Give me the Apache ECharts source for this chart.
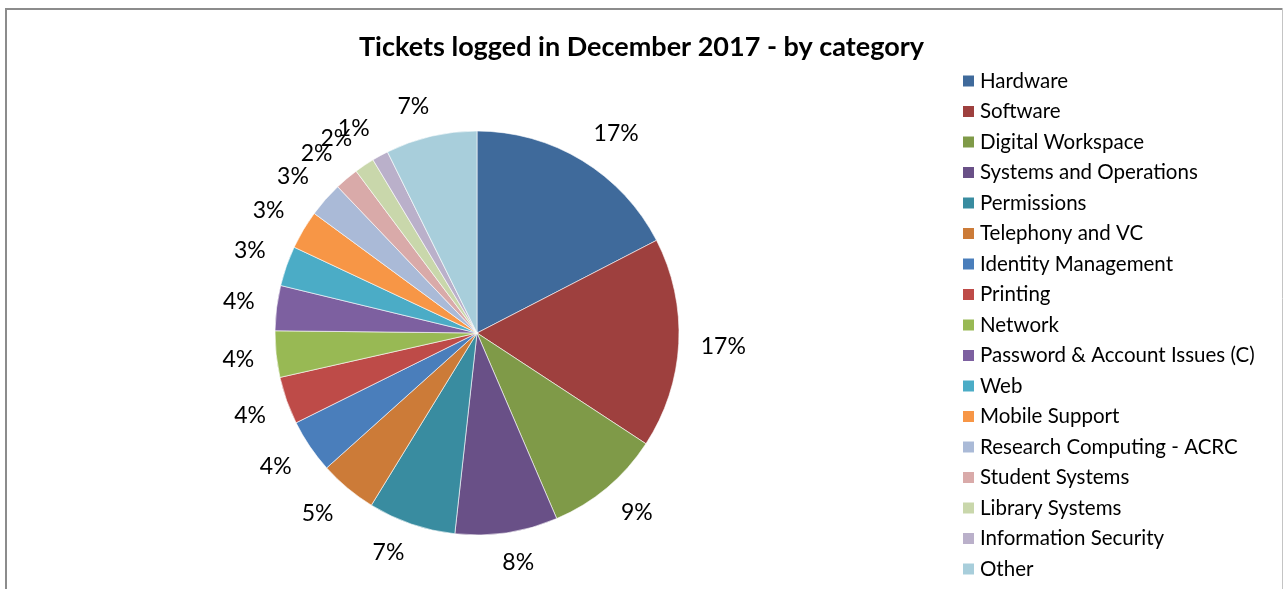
<!DOCTYPE html>
<html><head><meta charset="utf-8">
<script src="https://cdn.jsdelivr.net/npm/echarts@6/dist/echarts.min.js"></script>
<style>html,body{margin:0;padding:0;background:#fff}#c{width:1283px;height:589px}</style>
</head><body><div id="c"></div>
<script>
const titleText = 'Tickets logged in December 2017 - by category';
const categories = ['Hardware','Software','Digital Workspace','Systems and Operations','Permissions','Telephony and VC','Identity Management','Printing','Network','Password & Account Issues (C)','Web','Mobile Support','Research Computing - ACRC','Student Systems','Library Systems','Information Security','Other'];
const values = [17.4, 16.8, 9.3, 8.2, 7.0, 4.6, 4.3, 3.8, 3.7, 3.6, 3.2, 3.1, 2.8, 1.9, 1.6, 1.3, 7.3];
const colors = ['#3F6A9B','#9E403E','#7F9A48','#695087','#398CA0','#CC7B38','#4A7EBB','#BE4B48','#98B954','#7D60A0','#4BACC6','#F79646','#AABAD7','#D9AAA9','#C9D7AB','#BAB0CA','#A8CEDB'];

const CX = 477, CY = 333, R = 202, GAP = 22, LFS = 23;
const total = values.reduce((a, b) => a + b, 0);
const mids = []; let acc = 0;
values.forEach(v => { mids.push(acc + v / 2); acc += v; });
const clamp = v => Math.max(-1, Math.min(1, v));

const chart = echarts.init(document.getElementById('c'), null, {renderer: 'canvas'});
chart.setOption({
  animation: false,
  color: colors,
  title: {
    text: titleText, left: 'center', top: 29, padding: [5, 0, 5, 12],
    textStyle: {fontFamily: 'Lato', fontWeight: 'bold', fontSize: 27, color: '#000'}
  },
  legend: {
    orient: 'vertical', left: 961, top: 70, icon: 'rect',
    itemWidth: 13, itemHeight: 13, itemGap: 8.5, padding: 0,
    selectedMode: false,
    textStyle: {fontFamily: 'Lato', fontSize: 20.5, color: '#000', lineHeight: 22},
    data: categories
  },
  graphic: [
    {type: 'line', silent: true, shape: {x1: 5, y1: 9, x2: 1283, y2: 9}, style: {stroke: '#8c8c8c', lineWidth: 2}},
    {type: 'line', silent: true, shape: {x1: 6, y1: 8, x2: 6, y2: 589}, style: {stroke: '#8c8c8c', lineWidth: 2}},
    {type: 'line', silent: true, shape: {x1: 1282.5, y1: 8, x2: 1282.5, y2: 589}, style: {stroke: '#c4c4c4', lineWidth: 1}}
  ],
  series: [{
    type: 'pie', center: [CX, CY], radius: R, startAngle: 90, clockwise: true,
    avoidLabelOverlap: false,
    data: categories.map((n, i) => ({name: n, value: values[i]})),
    itemStyle: {borderColor: '#ffffff', borderWidth: 0.6},
    label: {
      show: true, position: 'outside',
      formatter: p => Math.round(p.percent) + '%',
      fontFamily: 'Lato', fontSize: LFS, color: '#000'
    },
    labelLine: {show: false},
    labelLayout: function (p) {
      const a = -Math.PI / 2 + 2 * Math.PI * mids[p.dataIndex] / total;
      const c = Math.cos(a), s = Math.sin(a);
      const w = p.labelRect.width / 2, h = LFS * 0.35;
      const ax = CX + (R + GAP) * c, ay = CY + (R + GAP) * s;
      return {x: ax + w * clamp(3.5 * c), y: ay + h * clamp(3.5 * s), align: 'center', verticalAlign: 'middle'};
    },
    emphasis: {disabled: true}
  }]
});
</script></body></html>
